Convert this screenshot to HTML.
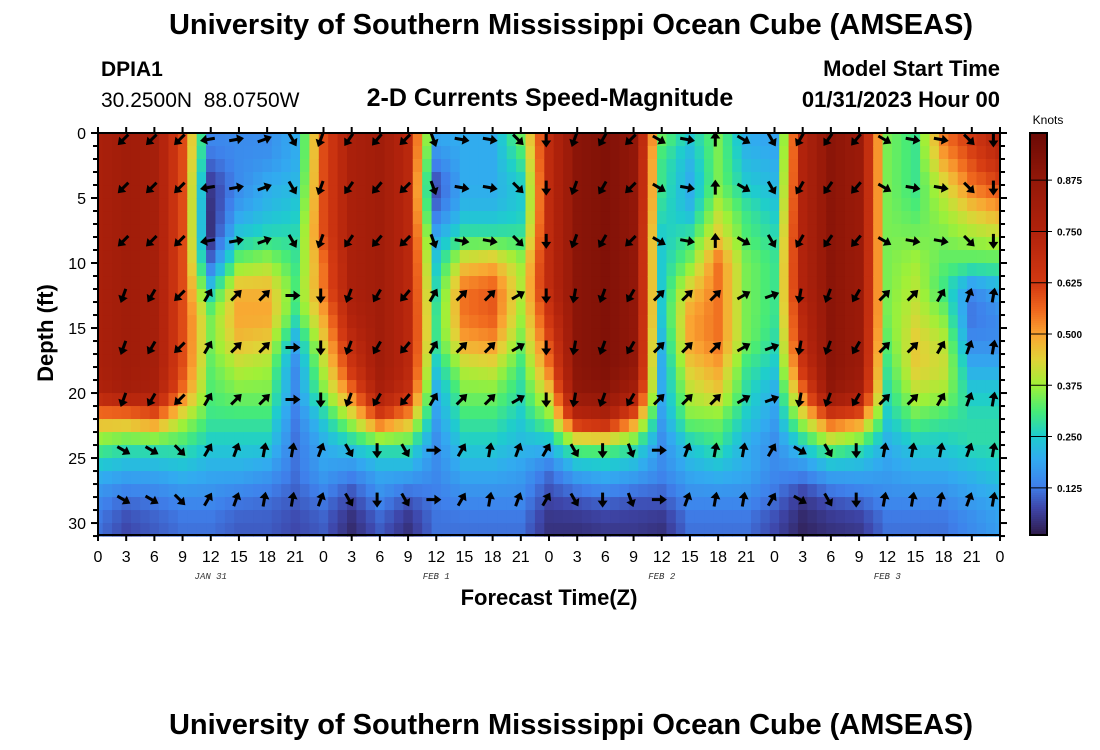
<!DOCTYPE html>
<html><head><meta charset="utf-8">
<style>
html,body{margin:0;padding:0;background:#fff;}
svg{display:block;font-family:"Liberation Sans",sans-serif;}
</style></head>
<body>
<svg id="chart" width="1100" height="750" viewBox="0 0 1100 750" xmlns="http://www.w3.org/2000/svg">
<rect width="1100" height="750" fill="#fff"/>
<text x="571" y="34" text-anchor="middle" font-size="29" font-weight="bold">University of Southern Mississippi Ocean Cube (AMSEAS)</text>
<text x="101" y="76" font-size="21" font-weight="bold">DPIA1</text>
<text x="101" y="107" font-size="21" style="white-space:pre">30.2500N  88.0750W</text>
<text x="550" y="106" text-anchor="middle" font-size="25" font-weight="bold">2-D Currents Speed-Magnitude</text>
<text x="1000" y="76" text-anchor="end" font-size="22" font-weight="bold">Model Start Time</text>
<text x="1000" y="107" text-anchor="end" font-size="22" font-weight="bold">01/31/2023 Hour 00</text>
<g id="heat"></g>
<g id="arrows"></g>
<rect x="98" y="133" width="902" height="402" fill="none" stroke="#000" stroke-width="2"/>
<g id="axes"></g>
<text transform="translate(53,333) rotate(-90)" text-anchor="middle" font-size="22" font-weight="bold">Depth (ft)</text>
<text x="549" y="605" text-anchor="middle" font-size="22" font-weight="bold">Forecast Time(Z)</text>
<g id="cbar"></g>
<text x="1048" y="124" text-anchor="middle" font-size="12">Knots</text>
<text x="571" y="734" text-anchor="middle" font-size="29" font-weight="bold">University of Southern Mississippi Ocean Cube (AMSEAS)</text>
</svg>
<script>
const hours=[0,3,6,9,12,15,18,21,24,27,30,33,36,39,42,45,48,51,54,57,60,63,66,69,72,75,78,81,84,87,90,93,96];
const depths=[0,2,4,6,8,10,12,14,16,18,20,22,24,26,28,30];
const speed=[
[.78,.78,.78,.78,.78,.78,.78,.78,.78,.78,.75,.5,.33,.22,.15,.12],
[.82,.82,.82,.82,.82,.82,.82,.82,.82,.82,.8,.5,.3,.2,.12,.08],
[.8,.8,.8,.8,.8,.8,.8,.8,.8,.8,.78,.55,.3,.2,.13,.1],
[.6,.6,.6,.6,.6,.6,.6,.6,.6,.6,.55,.4,.3,.22,.15,.12],
[.15,.12,.06,.05,.05,.12,.25,.35,.35,.33,.32,.3,.25,.2,.15,.12],
[.15,.15,.15,.18,.25,.35,.48,.5,.47,.4,.35,.3,.25,.2,.13,.1],
[.15,.16,.2,.22,.28,.38,.48,.5,.45,.38,.35,.3,.25,.18,.12,.1],
[.2,.2,.22,.25,.28,.3,.32,.3,.2,.15,.15,.13,.12,.12,.1,.08],
[.6,.6,.6,.6,.6,.55,.55,.5,.45,.4,.35,.25,.2,.18,.13,.1],
[.78,.78,.78,.78,.78,.78,.78,.75,.7,.65,.55,.4,.25,.15,.08,.04],
[.82,.82,.82,.82,.82,.82,.82,.82,.82,.82,.78,.6,.3,.2,.15,.1],
[.72,.72,.72,.72,.72,.72,.72,.72,.72,.72,.68,.5,.3,.2,.1,.05],
[.2,.15,.08,.12,.2,.25,.28,.3,.3,.25,.2,.18,.15,.15,.13,.12],
[.2,.2,.2,.22,.3,.45,.55,.55,.5,.4,.35,.3,.25,.2,.15,.12],
[.2,.2,.2,.22,.3,.48,.58,.58,.52,.42,.35,.3,.25,.2,.15,.12],
[.35,.3,.25,.25,.3,.38,.4,.38,.35,.3,.28,.25,.22,.18,.15,.12],
[.7,.7,.7,.7,.7,.7,.7,.65,.6,.55,.45,.35,.22,.12,.08,.05],
[.9,.9,.9,.9,.9,.9,.9,.9,.9,.9,.88,.7,.35,.2,.1,.05],
[.93,.93,.93,.93,.93,.93,.93,.93,.93,.93,.9,.75,.35,.22,.12,.06],
[.88,.88,.88,.88,.88,.88,.88,.88,.88,.88,.8,.55,.3,.2,.1,.06],
[.35,.3,.3,.28,.25,.25,.25,.25,.22,.2,.2,.18,.15,.15,.1,.05],
[.25,.22,.2,.22,.3,.35,.45,.5,.5,.45,.4,.35,.25,.2,.15,.12],
[.35,.35,.35,.4,.45,.55,.55,.55,.55,.5,.45,.35,.3,.22,.15,.12],
[.2,.22,.25,.3,.32,.35,.35,.35,.35,.3,.28,.25,.2,.2,.15,.12],
[.18,.2,.22,.25,.28,.3,.3,.3,.28,.25,.2,.18,.15,.15,.12,.08],
[.75,.75,.75,.75,.75,.75,.75,.72,.7,.65,.55,.4,.25,.15,.06,.03],
[.9,.9,.9,.9,.9,.9,.9,.9,.9,.9,.88,.6,.35,.2,.1,.05],
[.85,.85,.85,.85,.85,.85,.85,.85,.85,.85,.8,.55,.3,.2,.12,.06],
[.35,.35,.35,.35,.35,.35,.35,.35,.33,.3,.28,.25,.2,.18,.15,.12],
[.3,.3,.3,.32,.35,.38,.4,.42,.45,.45,.4,.33,.25,.2,.15,.12],
[.55,.5,.42,.38,.35,.33,.3,.35,.4,.42,.38,.3,.25,.2,.15,.12],
[.65,.6,.55,.45,.38,.32,.15,.12,.15,.2,.25,.28,.28,.22,.18,.15],
[.75,.7,.6,.5,.4,.32,.2,.15,.15,.2,.25,.28,.28,.25,.2,.18]
];
const arrowHours=[2.7,5.7,8.7,11.7,14.7,17.7,20.7,23.7,26.7,29.7,32.7,35.7,38.7,41.7,44.7,47.7,50.7,53.7,56.7,59.7,62.7,65.7,68.7,71.7,74.7,77.7,80.7,83.7,86.7,89.7,92.7,95.3];
const arrowDepths=[0.5,4.2,8.3,12.5,16.5,20.5,24.4,28.2];
const topDir=[225,225,225,260,80,70,150,200,215,220,225,160,100,100,135,180,200,210,225,120,100,0,120,150,210,215,220,120,100,100,135,180];
const midDir=[200,210,225,30,45,45,90,180,200,210,220,30,45,45,60,180,190,200,210,45,45,45,60,70,190,200,210,45,45,30,20,10];
const botDir=[120,120,135,30,20,10,10,20,150,180,150,90,30,10,20,30,150,180,160,90,20,10,10,30,120,150,180,10,10,10,20,10];
const yTicks=[0,5,10,15,20,25,30];
const xTickLabels=["0","3","6","9","12","15","18","21","0","3","6","9","12","15","18","21","0","3","6","9","12","15","18","21","0","3","6","9","12","15","18","21","0"];
const dateLabels=["JAN 31","FEB 1","FEB 2","FEB 3"];
const dateHours=[12,36,60,84];
const cbTicks=[0.125,0.25,0.375,0.5,0.625,0.75,0.875];

const X0=98,X1=1000,Y0=133,Y1=535,HMAX=96,DMAX=30.92;
const xs=h=>X0+(X1-X0)*h/HMAX;
const ys=d=>Y0+(Y1-Y0)*d/DMAX;
const VMIN=0.01,VMAX=0.99;
const stops=[[0,[46,25,70]],[0.07,[62,70,170]],[0.125,[63,128,235]],[0.19,[50,170,240]],[0.25,[30,205,205]],[0.31,[70,235,120]],[0.375,[160,240,55]],[0.44,[225,210,55]],[0.5,[250,165,50]],[0.56,[240,105,30]],[0.625,[212,58,18]],[0.75,[178,35,12]],[0.875,[150,25,9]],[1.0,[108,10,5]]];
function color(v){
  v=Math.max(0,Math.min(1,v));
  for(let i=1;i<stops.length;i++){
    if(v<=stops[i][0]){
      const a=stops[i-1],b=stops[i],t=(v-a[0])/(b[0]-a[0]);
      const c=a[1].map((x,j)=>Math.round(x+(b[1][j]-x)*t));
      return `rgb(${c[0]},${c[1]},${c[2]})`;
    }
  }
  return 'rgb(108,10,5)';
}
function interp(arr,val){
  let i=0; while(i<arr.length-2 && val>arr[i+1]) i++;
  const t=Math.max(0,Math.min(1,(val-arr[i])/(arr[i+1]-arr[i])));
  return [i,t];
}
function sample(h,d){
  const [i,ti]=interp(hours,h),[j,tj]=interp(depths,d);
  const a=speed[i][j],b=speed[i+1][j],c=speed[i][j+1],e=speed[i+1][j+1];
  return (a*(1-ti)+b*ti)*(1-tj)+(c*(1-ti)+e*ti)*tj;
}
const NS='http://www.w3.org/2000/svg';
function mk(tag,attrs,parent){const e=document.createElementNS(NS,tag);for(const k in attrs)e.setAttribute(k,attrs[k]);parent.appendChild(e);return e;}
const heat=document.getElementById('heat');
for(let h=0;h<97;h++){
  for(let d=0;d<31;d++){
    const v=sample(h,d+0.5);
    const xa=Math.max(X0,xs(h-0.5)),xb=Math.min(X1,xs(h+0.5));
    const r=mk('rect',{x:xa.toFixed(2),y:ys(d).toFixed(2),width:(xb-xa+0.6).toFixed(2),height:(ys(d+1)-ys(d)+0.6).toFixed(2),fill:color((v-VMIN)/(VMAX-VMIN))},heat);
    
    
  }
}
const ar=document.getElementById('arrows');
arrowHours.forEach((h,k)=>{
  arrowDepths.forEach((d,r)=>{
    const ang=r<3?topDir[k]:(r<6?midDir[k]:botDir[k]);
    const g=mk('g',{transform:`translate(${xs(h).toFixed(1)},${ys(d).toFixed(1)}) rotate(${ang})`},ar);
    
    
    mk('line',{x1:0,y1:7,x2:0,y2:-3,stroke:'#000','stroke-width':3},g);
    mk('polygon',{points:'0,-8 -5,-1 5,-1',fill:'#000'},g);
  });
});
const ax=document.getElementById('axes');
for(let d=0;d<=31;d++){
  const y=ys(d),maj=d%5===0;
  mk('line',{x1:X0-(maj?7:5),y1:y,x2:X0,y2:y,stroke:'#000','stroke-width':2},ax);
  mk('line',{x1:X1,y1:y,x2:X1+(maj?7:5),y2:y,stroke:'#000','stroke-width':2},ax);
}
yTicks.forEach(t=>{
  const e=mk('text',{x:X0-12,y:ys(t)+6,'text-anchor':'end','font-size':16},ax);
  e.textContent=t;
  
  
});
xTickLabels.forEach((l,i)=>{
  const x=xs(i*3);
  mk('line',{x1:x,y1:Y1,x2:x,y2:Y1+6,stroke:'#000','stroke-width':2},ax);
  mk('line',{x1:x,y1:Y0,x2:x,y2:Y0-6,stroke:'#000','stroke-width':2},ax);
  const e=mk('text',{x:x,y:562,'text-anchor':'middle','font-size':16},ax);
  e.textContent=l;
  
  
});
dateLabels.forEach((l,i)=>{
  const e=mk('text',{x:xs(dateHours[i]),y:579,'text-anchor':'middle','font-size':9,'font-style':'italic','font-family':'Liberation Mono, monospace',fill:'#333'},ax);
  e.textContent=l;
  
  
});
const cb=document.getElementById('cbar');
const CX=1030,CW=17;
for(let y=Y0;y<Y1;y+=2){
  const v=VMAX-(VMAX-VMIN)*(y-Y0)/(Y1-Y0);
  mk('rect',{x:CX,y:y,width:CW,height:2.5,fill:color((v-VMIN)/(VMAX-VMIN))},cb);
}
mk('rect',{x:CX,y:Y0,width:CW,height:Y1-Y0,fill:'none',stroke:'#000','stroke-width':2},cb);
cbTicks.forEach(t=>{
  const y=Y0+(VMAX-t)/(VMAX-VMIN)*(Y1-Y0);
  mk('line',{x1:CX,y1:y,x2:CX+CW+5,y2:y,stroke:'#000','stroke-width':1},cb);
  const e=mk('text',{x:CX+27,y:y+4,'font-size':10,'font-weight':'bold'},cb);
  e.textContent=t.toFixed(3);
  
  
});
</script>
</body></html>
